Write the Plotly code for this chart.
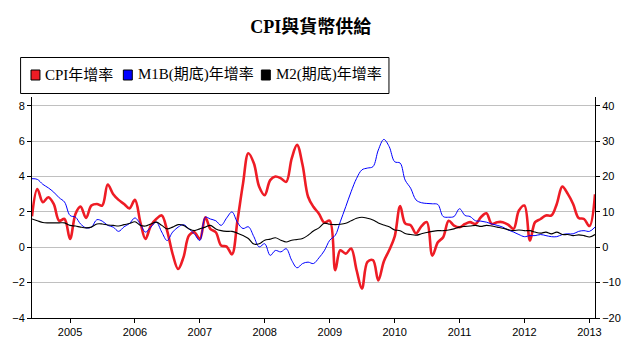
import pandas as pd
import plotly.graph_objects as go

# Monthly data, Jun 2004 - Feb 2013
start_month = "2004-06-01"
cpi = [1.75, 3.3, 2.55, 2.83, 2.45, 1.5, 1.6, 0.47, 1.9, 2.3, 1.66, 2.36, 2.45, 2.36, 3.55, 3.0, 2.68, 2.45, 2.2, 2.68,
       1.4, 0.47, 1.23, 1.6, 1.8, 0.94, -0.38, -1.23, -0.57, 0.66, 0.85, 0.47, 1.7, 1.04, 0.85, 0.1, 0.04, -0.4, 1.53, 3.6,
       5.32, 4.75, 3.43, 2.95, 3.8, 4.0, 3.9, 3.7, 5.03, 5.79, 4.65, 2.86, 2.29, 1.9, 1.4, 1.5, -1.3, -0.17, -0.36, -0.07,
       -1.3, -2.34, -0.83, -0.73, -1.87, -0.8, -0.17, 0.6, 2.33, 1.35, 1.25, 0.78, 1.2, 1.42, -0.47, 0.28, 0.57, 1.5, 1.23, 1.13,
       1.32, 1.42, 1.32, 1.7, 1.92, 1.32, 1.42, 1.42, 1.28, 1.04, 2.08, 2.36, 0.38, 1.42, 1.6, 1.8, 1.8, 2.45, 3.43, 3.02,
       2.45, 1.66, 1.6, 1.2, 3.0]
m1b = [19.4, 19.2, 17.8, 16.8, 15.6, 14.0, 12.8, 9.0, 8.5, 6.6, 5.5, 5.7, 7.8, 7.4, 6.2, 5.7, 4.5, 5.8, 6.7, 8.3,
       6.5, 4.3, 5.7, 7.1, 4.3, 1.9, 4.3, 5.7, 6.4, 5.2, 3.8, 1.9, 8.5, 8.0, 7.5, 6.2, 8.3, 10.0, 7.0, 5.3,
       5.8, 3.0, 0.1, 1.0, -2.3, -0.9, -1.3, -0.4, -3.7, -5.8, -4.6, -4.2, -4.6, -3.0, -1.0, 2.0, 3.4, 7.2, 11.5, 15.7,
       19.5, 21.9, 22.4, 22.8, 27.5, 30.5, 28.5, 24.2, 23.8, 19.0, 16.7, 13.4, 12.6, 12.4, 12.3, 12.1, 8.7, 8.5, 8.7, 10.9,
       9.0, 8.7, 7.5, 7.4, 7.1, 6.6, 6.2, 5.7, 4.9, 4.3, 3.6, 3.0, 3.3, 3.3, 3.6, 3.3, 3.0, 3.0, 3.6, 3.8,
       3.8, 4.5, 4.7, 4.5, 5.7]
m2 = [8.0, 7.5, 7.0, 6.9, 6.9, 6.9, 6.9, 6.2, 6.0, 5.7, 5.5, 5.7, 6.6, 6.6, 6.3, 6.2, 6.0, 6.4, 6.7, 7.2,
      6.2, 6.0, 6.6, 7.1, 6.2, 5.2, 5.7, 6.4, 6.2, 5.2, 4.7, 5.2, 5.7, 6.2, 5.2, 4.7, 4.5, 4.5, 4.0, 3.3,
      2.5, 0.9, 1.0, 2.0, 2.3, 2.7, 2.0, 1.5, 2.0, 2.2, 2.5, 3.4, 4.6, 5.5, 6.8, 6.5, 6.4, 6.5, 6.8, 7.5,
      8.2, 8.5, 8.2, 7.7, 6.9, 6.3, 5.8, 4.9, 4.7, 3.9, 3.6, 3.4, 3.8, 4.2, 4.5, 4.7, 4.7, 4.9, 5.2, 5.7,
      5.9, 6.0, 6.2, 5.9, 6.2, 6.0, 5.7, 5.4, 5.0, 4.7, 4.9, 4.7, 4.7, 4.3, 4.0, 4.3, 3.8, 4.3, 3.6, 3.6,
      3.3, 3.5, 3.3, 2.9, 3.6]
year_labels = ["2005", "2006", "2007", "2008", "2009", "2010", "2011", "2012", "2013"]

names = ["CPI年增率", "M1B(期底)年增率", "M2(期底)年增率"]
colors = ["#EE1C25", "#0000FF", "#000000"]

W, H = 633, 350
ML, MR, MT, MB = 32, 34, 97, 32
PW, PH = W - ML - MR, H - MT - MB


def px_x(p):
    return (p - ML) / PW


def px_y(p):
    return (H - MB - p) / PH


dates = pd.date_range(start_month, periods=len(cpi), freq="MS")
tickvals = [pd.Timestamp(f"{y}-01-01") for y in year_labels]

fig = go.Figure()
fig.add_trace(go.Scatter(x=dates, y=cpi, mode="lines", name=names[0], showlegend=False,
                         line=dict(color=colors[0], width=2.6, shape="spline", smoothing=1)))
fig.add_trace(go.Scatter(x=dates, y=m1b, mode="lines", name=names[1], showlegend=False, yaxis="y2",
                         line=dict(color=colors[1], width=1, shape="spline", smoothing=1)))
fig.add_trace(go.Scatter(x=dates, y=m2, mode="lines", name=names[2], showlegend=False, yaxis="y2",
                         line=dict(color=colors[2], width=1.1, shape="spline", smoothing=1)))

# Excel-style legend box (drawn in pixel layout of the chart)
legend_font = dict(family="Liberation Serif, Noto Sans CJK TC", size=15, color="black")
shapes = [dict(type="rect", xref="paper", yref="paper", x0=px_x(20.5), x1=px_x(391.5),
               y0=px_y(93.5), y1=px_y(57.5), line=dict(color="black", width=1), fillcolor="white",
               layer="above")]
annotations = []
key_left = [31, 124, 263]
text_left = [43, 137, 276]
for n, c, kx, tx in zip(names, colors, key_left, text_left):
    shapes.append(dict(type="rect", xref="paper", yref="paper", x0=px_x(kx), x1=px_x(kx + 9),
                       y0=px_y(80), y1=px_y(70), line=dict(color="black", width=1), fillcolor=c,
                       layer="above"))
    annotations.append(dict(text=n, xref="paper", yref="paper", x=px_x(tx), y=px_y(75),
                            xanchor="left", yanchor="middle", showarrow=False, font=legend_font))

tick_font = dict(family="Liberation Sans, Arial, sans-serif", size=11, color="black")

fig.update_layout(
    width=W, height=H,
    margin=dict(l=ML, r=MR, t=MT, b=MB),
    paper_bgcolor="white", plot_bgcolor="white",
    showlegend=False,
    shapes=shapes, annotations=annotations,
    title=dict(text="<b>CPI與貨幣供給</b>", x=0.491, xanchor="center", y=0.923, yanchor="middle",
               yref="container",
               font=dict(family="Liberation Serif, Noto Sans CJK TC", size=18, color="black")),
    xaxis=dict(type="date", range=[dates[0], dates[-1]], tickvals=tickvals, ticktext=year_labels,
               showgrid=False, zeroline=False, showline=True, linecolor="black", linewidth=1,
               ticks="outside", ticklen=4, tickcolor="black", tickfont=tick_font),
    yaxis=dict(range=[-4, 8.5], tickvals=[-4, -2, 0, 2, 4, 6, 8], showgrid=True, gridcolor="#c0c0c0",
               gridwidth=1, zeroline=False, showline=True, linecolor="black", linewidth=1,
               ticks="outside", ticklen=4, tickcolor="black", tickfont=tick_font),
    yaxis2=dict(range=[-20, 42.5], tickvals=[-20, -10, 0, 10, 20, 30, 40], overlaying="y", side="right",
                showgrid=False, zeroline=False, showline=True, linecolor="black", linewidth=1,
                ticks="outside", ticklen=4, tickcolor="black", tickfont=tick_font),
)

fig.write_html("out.html")
